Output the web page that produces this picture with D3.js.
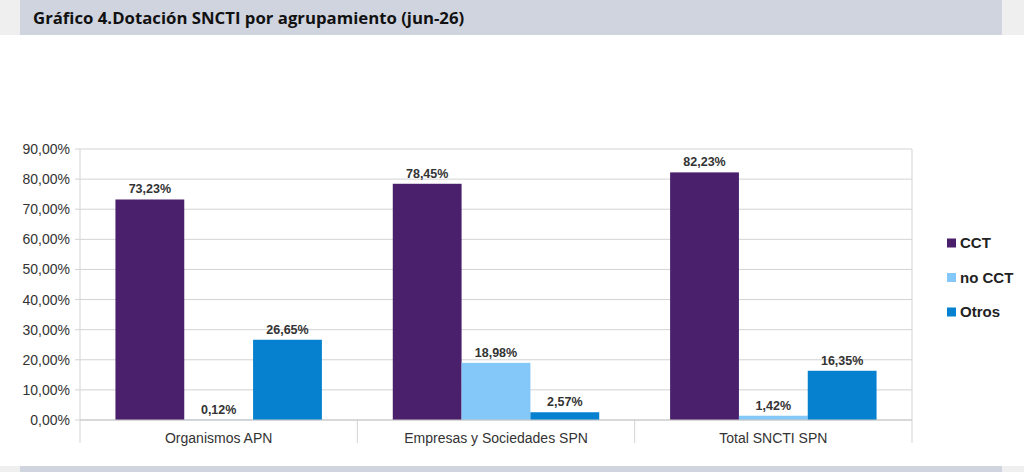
<!DOCTYPE html>
<html>
<head>
<meta charset="utf-8">
<script src="https://cdn.jsdelivr.net/npm/d3@7"></script>
<style>
  body { margin: 0; background: #fff; }
  svg { display: block; }
</style>
</head>
<body>
<svg id="chart" width="1024" height="472"></svg>
<script>
// data
const categories = ["Organismos APN", "Empresas y Sociedades SPN", "Total SNCTI SPN"];
const seriesNames = ["CCT", "no CCT", "Otros"];
const cctValues = [73.23, 78.45, 82.23];
const noCctValues = [0.12, 18.98, 1.42];
const otrosValues = [26.65, 2.57, 16.35];
const yTicks = [0, 10, 20, 30, 40, 50, 60, 70, 80, 90];
const seriesColors = ["#4a1f6b", "#84c8fa", "#0581d0"];

const seriesValues = [cctValues, noCctValues, otrosValues];
const rows = categories.map((c, i) => ({
    category: c,
    values: seriesNames.map((s, j) => ({ series: s, value: seriesValues[j][i] }))
}));

const svg = d3.select("#chart");
const fmt = v => d3.format(".2f")(v).replace(".", ",") + "%";

// header and footer bands
svg.append("rect").attr("x", 0).attr("y", 0).attr("width", 1024).attr("height", 35).attr("fill", "#efefef");
svg.append("rect").attr("x", 20).attr("y", 0).attr("width", 982).attr("height", 35).attr("fill", "#d0d4df");
svg.append("rect").attr("x", 0).attr("y", 466).attr("width", 1024).attr("height", 6).attr("fill", "#efefef");
svg.append("rect").attr("x", 20).attr("y", 466).attr("width", 982).attr("height", 6).attr("fill", "#d0d4df");

svg.append("text")
    .attr("x", 33).attr("y", 24)
    .attr("font-family", "Open Sans, sans-serif")
    .attr("font-size", "16.75px")
    .attr("font-weight", "bold")
    .attr("fill", "#111")
    .text("Gráfico 4.Dotación SNCTI por agrupamiento (jun-26)");

const margin = { left: 80, right: 912, top: 149, bottom: 420 };

const x0 = d3.scaleBand().domain(categories).range([margin.left, margin.right]).paddingInner(0).paddingOuter(0);
const x1 = d3.scaleBand().domain(seriesNames).range([0, x0.bandwidth()]).paddingOuter(0.515).paddingInner(0);
const y = d3.scaleLinear().domain([0, 90]).range([margin.bottom, margin.top]);
const color = d3.scaleOrdinal().domain(seriesNames).range(seriesColors);

// gridlines
svg.append("g")
    .selectAll("line")
    .data(yTicks)
    .join("line")
    .attr("x1", margin.left - 5).attr("x2", margin.right)
    .attr("y1", d => y(d)).attr("y2", d => y(d))
    .attr("stroke", "#d3d3d3")
    .attr("stroke-width", 1);

// y axis
const yAxis = svg.append("g")
    .attr("transform", `translate(${margin.left},0)`)
    .call(d3.axisLeft(y).tickValues(yTicks).tickSize(0).tickPadding(10).tickFormat(fmt));
yAxis.select(".domain").remove();
yAxis.selectAll("text")
    .attr("font-family", "Liberation Sans, Arial, sans-serif")
    .attr("font-size", "14px")
    .attr("fill", "#333");

// category separators
svg.append("g")
    .selectAll("line")
    .data(d3.range(categories.length + 1))
    .join("line")
    .attr("x1", i => margin.left + i * x0.bandwidth())
    .attr("x2", i => margin.left + i * x0.bandwidth())
    .attr("y1", i => (i === 0 || i === categories.length) ? margin.top : margin.bottom)
    .attr("y2", 443)
    .attr("stroke", "#d3d3d3");

// x axis labels
const xAxis = svg.append("g")
    .attr("transform", `translate(0,${margin.bottom})`)
    .call(d3.axisBottom(x0).tickSize(0).tickPadding(13));
xAxis.select(".domain").remove();
xAxis.selectAll("text")
    .attr("font-family", "Liberation Sans, Arial, sans-serif")
    .attr("font-size", "14px")
    .attr("fill", "#333");

// bars
const groups = svg.append("g")
    .selectAll("g")
    .data(rows)
    .join("g")
    .attr("transform", d => `translate(${x0(d.category)},0)`);

groups.selectAll("rect")
    .data(d => d.values)
    .join("rect")
    .attr("x", d => x1(d.series))
    .attr("y", d => y(d.value))
    .attr("width", x1.bandwidth())
    .attr("height", d => y(0) - y(d.value))
    .attr("fill", d => color(d.series));

groups.selectAll("text")
    .data(d => d.values)
    .join("text")
    .attr("x", d => x1(d.series) + x1.bandwidth() / 2)
    .attr("y", d => y(d.value) - 6)
    .attr("text-anchor", "middle")
    .attr("font-family", "Liberation Sans, Arial, sans-serif")
    .attr("font-size", "12.5px")
    .attr("font-weight", "bold")
    .attr("fill", "#333")
    .text(d => fmt(d.value));

// baseline
svg.append("line")
    .attr("x1", margin.left).attr("x2", margin.right)
    .attr("y1", margin.bottom).attr("y2", margin.bottom)
    .attr("stroke", "#c8c8c8");

// legend
const legend = svg.append("g")
    .selectAll("g")
    .data(seriesNames)
    .join("g")
    .attr("transform", (d, i) => `translate(947,${243 + i * 34.5})`);

legend.append("rect")
    .attr("x", 0).attr("y", -4.5)
    .attr("width", 9).attr("height", 9)
    .attr("fill", d => color(d));

legend.append("text")
    .attr("x", 13).attr("y", 0)
    .attr("dy", "0.35em")
    .attr("font-family", "Liberation Sans, Arial, sans-serif")
    .attr("font-size", "15px")
    .attr("font-weight", "bold")
    .attr("fill", "#222")
    .text(d => d);
</script>
</body>
</html>
